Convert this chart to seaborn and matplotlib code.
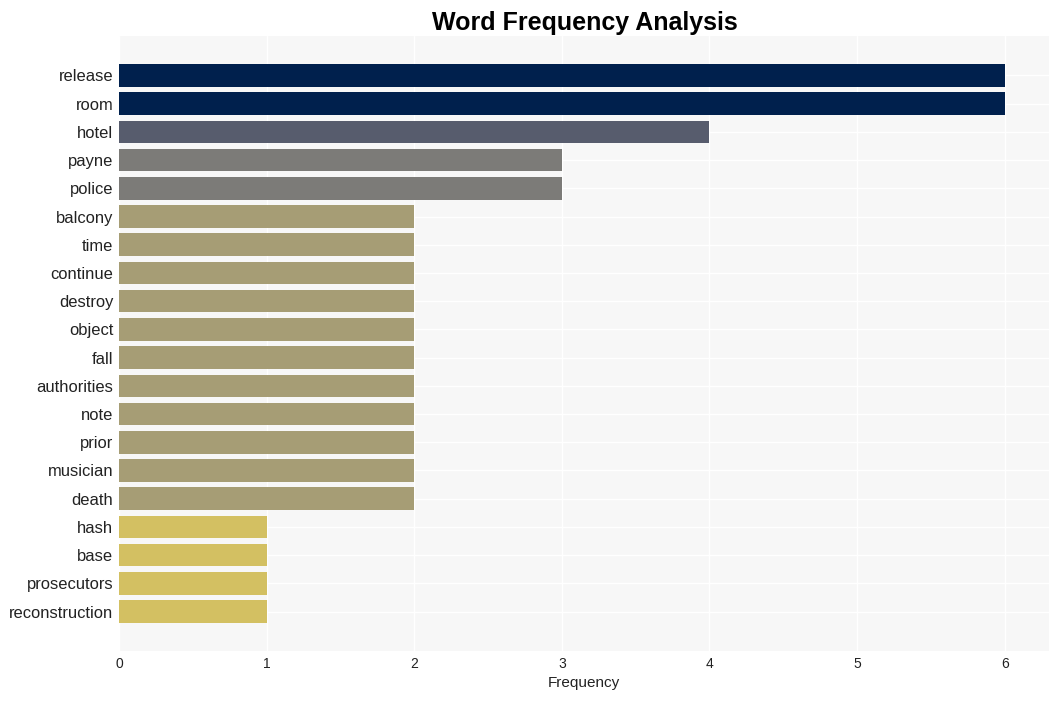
import matplotlib
matplotlib.use("Agg")
import matplotlib.pyplot as plt
import seaborn as sns
import pandas as pd

words = ["release", "room", "hotel", "payne", "police", "balcony", "time", "continue",
         "destroy", "object", "fall", "authorities", "note", "prior", "musician", "death",
         "hash", "base", "prosecutors", "reconstruction"]
counts = [6, 6, 4, 3, 3, 2, 2, 2, 2, 2, 2, 2, 2, 2, 2, 2, 1, 1, 1, 1]
color_by_count = {6: "#00204d", 4: "#575c6d", 3: "#7c7b78", 2: "#a69d75", 1: "#d3c062"}

df = pd.DataFrame({"word": words, "count": counts})

sns.set_theme(style="whitegrid")
plt.rcParams['font.family'] = ['Liberation Sans', 'DejaVu Sans']

fig = plt.figure(figsize=(10.59, 7.01), dpi=100)
ax = fig.add_axes([119/1059, 1 - 651/701, (1049-119)/1059, (651-36)/701])
ax.set_facecolor("#f7f7f7")
palette = [color_by_count[c] for c in counts]
sns.barplot(data=df, y="word", x="count", hue="word", palette=palette, legend=False,
            orient="h", width=0.8, ax=ax, saturation=1, linewidth=0, edgecolor="none")
ax.set_xlim(0, 6.3)
ax.set_ylim(20.4, -1.4)
ax.grid(True, color="white", linewidth=1)
for s in ax.spines.values():
    s.set_visible(False)
ax.set_ylabel("")
ax.set_xlabel("Frequency", fontsize=11, color="#222222", labelpad=4)
ax.tick_params(axis="y", labelsize=11.9, length=0, pad=4, labelcolor="#222222")
ax.tick_params(axis="x", labelsize=10, length=0, pad=4, labelcolor="#222222")
ax.set_xticks([0, 1, 2, 3, 4, 5, 6])
fig.suptitle("Word Frequency Analysis", fontsize=18, fontweight="bold", color="black",
             y=0.985, x=0.552)
fig.savefig("out.png", dpi=100, facecolor="white")
